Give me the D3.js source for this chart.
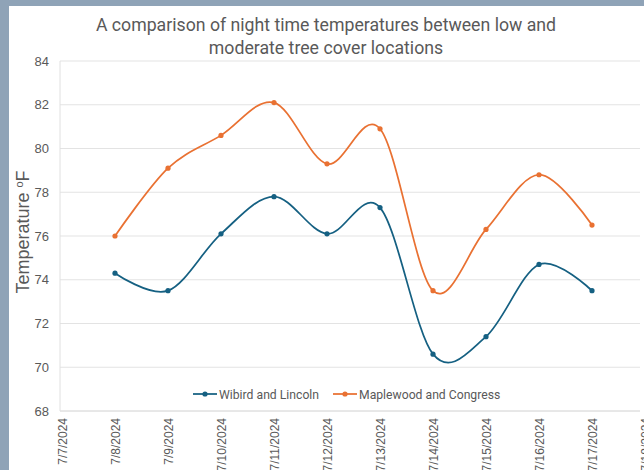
<!DOCTYPE html>
<html><head><meta charset="utf-8">
<script src="https://cdn.jsdelivr.net/npm/d3@7"></script>
<style>
html,body{margin:0;padding:0;background:#fff;}
svg{display:block;}
</style></head>
<body>
<svg id="chart" width="644" height="470"></svg>
<script>
const dates = ["7/8/2024","7/9/2024","7/10/2024","7/11/2024","7/12/2024","7/13/2024","7/14/2024","7/15/2024","7/16/2024","7/17/2024"];
const wibird = [74.3,73.5,76.1,77.8,76.1,77.3,70.6,71.4,74.7,73.5];
const maplewood = [76.0,79.1,80.6,82.1,79.3,80.9,73.5,76.3,78.8,76.5];
const seriesNames = ["Wibird and Lincoln","Maplewood and Congress"];
const xTickLabels = ["7/7/2024","7/8/2024","7/9/2024","7/10/2024","7/11/2024","7/12/2024","7/13/2024","7/14/2024","7/15/2024","7/16/2024","7/17/2024","7/18/2024"];
const yTicks = [68,70,72,74,76,78,80,82,84];

const svg = d3.select("#chart");
const parse = d3.timeParse("%m/%d/%Y");
const W=644,H=470;
// frame
svg.append("rect").attr("x",0).attr("y",0).attr("width",W).attr("height",H).attr("fill","#8fa3b7");
svg.append("rect").attr("x",9).attr("y",6).attr("width",W-9).attr("height",H-6).attr("fill","#fff");

const plotL=60, plotR=640, plotT=61, plotB=411;
const x = d3.scaleTime().domain([parse("7/7/2024"),parse("7/18/2024")]).range([62,645]);
const y = d3.scaleLinear().domain([68,84]).range([plotB,plotT]);

const grey="#595959";
// gridlines
svg.append("g").selectAll("line").data(yTicks).join("line")
  .attr("x1",plotL).attr("x2",plotR).attr("y1",d=>y(d)).attr("y2",d=>y(d))
  .attr("stroke",d=>d===68?"#d0d0d0":"#e3e3e3").attr("stroke-width",1);
svg.append("line").attr("x1",plotL).attr("x2",plotL).attr("y1",plotT).attr("y2",plotB).attr("stroke","#e0e0e0");

// y axis labels
const yAxis = d3.axisLeft(y).tickValues(yTicks).tickSize(0).tickPadding(0);
const gy = svg.append("g").attr("transform",`translate(49,0)`).call(yAxis);
gy.select(".domain").remove();
gy.selectAll("text").attr("fill",grey).style("font-family","Liberation Sans, Arial, sans-serif").style("font-size","13px");

// x axis labels
const xAxis = d3.axisBottom(x).tickValues(xTickLabels.map(parse)).tickFormat(d3.timeFormat("%-m/%-d/%Y")).tickSize(0).tickPadding(0);
const gx = svg.append("g").attr("transform",`translate(0,${plotB+7})`).call(xAxis);
gx.select(".domain").remove();
gx.selectAll("text").attr("fill",grey).style("font-family","Liberation Sans, Arial, sans-serif").style("font-size","12px")
  .attr("text-anchor","end").attr("dy","0").attr("y",0)
  .attr("transform","rotate(-90) translate(0,4)");

// lines
const line = d3.line().x(d=>x(d.date)).y(d=>y(d.v)).curve(d3.curveCatmullRom.alpha(0));
const colors=["#156082","#e97132"];
[wibird,maplewood].forEach((vals,i)=>{
  const data = dates.map((d,j)=>({date:parse(d),v:vals[j]}));
  svg.append("path").datum(data).attr("d",line).attr("fill","none").attr("stroke",colors[i]).attr("stroke-width",1.75);
  svg.append("g").selectAll("circle").data(data).join("circle")
    .attr("cx",d=>x(d.date)).attr("cy",d=>y(d.v)).attr("r",2.6).attr("fill",colors[i]);
});

// title
const title = svg.append("text").attr("x",327).attr("fill",grey)
  .style("font-family","Roboto, sans-serif").style("font-size","17.7px").attr("text-anchor","middle");
title.append("tspan").attr("x",326).attr("y",31).text("A comparison of night time temperatures between low and");
title.append("tspan").attr("x",326).attr("y",54).text("moderate tree cover locations");

// y title
const yt = svg.append("text").attr("transform","translate(29,232) rotate(-90)").attr("text-anchor","middle")
  .attr("fill",grey).style("font-family","Liberation Sans, Arial, sans-serif").style("font-size","18px");
yt.append("tspan").text("Temperature ");
yt.append("tspan").attr("dy","-6").style("font-size","11px").text("o");
yt.append("tspan").attr("dy","6").text("F");

// legend
const leg = [{x:193,name:seriesNames[0],c:colors[0]},{x:333,name:seriesNames[1],c:colors[1]}];
const lg = svg.append("g");
leg.forEach(l=>{
  lg.append("line").attr("x1",l.x).attr("x2",l.x+24).attr("y1",394).attr("y2",394).attr("stroke",l.c).attr("stroke-width",1.75);
  lg.append("circle").attr("cx",l.x+12).attr("cy",394).attr("r",2.6).attr("fill",l.c);
  lg.append("text").attr("x",l.x+26).attr("y",398.5).attr("fill",grey)
    .style("font-family","Roboto, sans-serif").style("font-size","12.2px").text(l.name);
});
</script>
</body></html>
